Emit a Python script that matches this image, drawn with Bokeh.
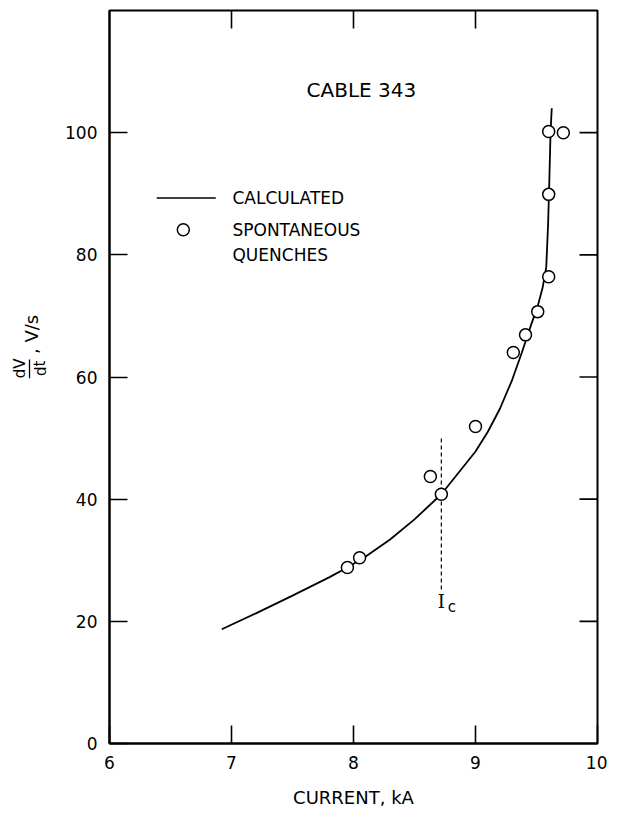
from bokeh.plotting import figure
from bokeh.layouts import row
from bokeh.models import FixedTicker, Label, Range1d
from bokeh.core.properties import value
from bokeh.embed import file_html
from bokeh.resources import INLINE

# ---- data ----
calc_current = [6.92, 7.20, 7.50, 7.80, 7.95, 8.10, 8.30, 8.50, 8.72, 9.00, 9.10, 9.20, 9.30, 9.38,
                9.45, 9.51, 9.55, 9.58, 9.595, 9.605, 9.615, 9.625]
calc_dvdt = [18.7, 21.3, 24.2, 27.2, 28.8, 30.6, 33.4, 36.7, 40.8, 47.8, 51.0, 54.8, 59.5, 64.0,
             68.2, 71.6, 74.6, 78.0, 85.0, 92.0, 100.0, 104.0]

quench_current = [7.95, 8.05, 8.63, 8.72, 9.00, 9.31, 9.41, 9.51, 9.60, 9.60, 9.60, 9.72]
quench_dvdt = [28.8, 30.4, 43.7, 40.8, 51.9, 64.0, 66.9, 70.7, 76.4, 89.9, 100.2, 100.0]

ic_current = 8.72
ic_dvdt = [25.2, 50.3]

x_ticks = [6, 7, 8, 9, 10]
y_ticks = [0, 20, 40, 60, 80, 100]
inner_x_ticks = [7, 8, 9]
inner_y_ticks = [20, 40, 60, 80, 100]

title_text = "CABLE 343"
legend_line_text = "CALCULATED"
legend_marker_text = ["SPONTANEOUS", "QUENCHES"]
x_label = "CURRENT, kA"
y_label_parts = ["dV", "dt", ", V/s"]

FONT = "DejaVu Sans"
X0, X1, Y0, Y1 = 6, 10, 0, 120

# ---- layout sizes ----
H = 811
LABEL_W = 60
MAIN_W = 607 - LABEL_W
FRAME_LEFT, FRAME_RIGHT, FRAME_TOP, FRAME_BOTTOM = 109, 597, 10, 743
TICK = 18

# ---- y-axis label panel ----
lab = figure(width=LABEL_W, height=H, x_range=Range1d(0, LABEL_W), y_range=Range1d(0, H),
             output_backend="svg", toolbar_location=None, min_border=0,
             x_axis_location=None, y_axis_location=None)
lab.outline_line_color = None
lab.grid.visible = False
lab.text(x=[19, 40], y=[H - 396, H - 396], text=y_label_parts[:2], angle=1.5708,
         text_align="center", text_baseline="middle", text_font=value(FONT),
         text_font_size=value("15px"), text_color="black")
lab.segment(x0=[29], y0=[H - 407], x1=[29], y1=[H - 386], line_color="black", line_width=1.3)
lab.text(x=[31], y=[H - 380], text=[y_label_parts[2]], angle=1.5708,
         text_align="left", text_baseline="middle", text_font=value(FONT),
         text_font_size=value("18px"), text_color="black")

# ---- main plot ----
p = figure(width=MAIN_W, height=H, x_range=Range1d(X0, X1), y_range=Range1d(Y0, Y1),
           output_backend="svg", toolbar_location=None,
           min_border_left=FRAME_LEFT - LABEL_W, min_border_right=LABEL_W + MAIN_W - FRAME_RIGHT,
           min_border_top=FRAME_TOP, min_border_bottom=H - FRAME_BOTTOM)
p.outline_line_color = "black"
p.outline_line_width = 2
p.grid.visible = False
p.background_fill_color = "white"
p.border_fill_color = "white"

for ax, ticks in ((p.xaxis[0], x_ticks), (p.yaxis[0], y_ticks)):
    ax.ticker = FixedTicker(ticks=ticks)
    ax.axis_line_width = 2
    ax.axis_line_color = "black"
    ax.major_tick_in = TICK
    ax.major_tick_out = 0
    ax.major_tick_line_width = 1.6
    ax.minor_tick_line_color = None
    ax.major_label_text_font = FONT
    ax.major_label_text_font_size = "17px"
    ax.major_label_text_color = "black"
    ax.major_label_standoff = 12

p.xaxis.axis_label = x_label
p.xaxis.axis_label_text_font = FONT
p.xaxis.axis_label_text_font_size = "18px"
p.xaxis.axis_label_text_font_style = "normal"
p.xaxis.axis_label_text_color = "black"
p.xaxis.axis_label_standoff = 15

# inner ticks on the top and right edges
ppx = (FRAME_RIGHT - FRAME_LEFT) / (X1 - X0)
ppy = (FRAME_BOTTOM - FRAME_TOP) / (Y1 - Y0)
p.segment(x0=inner_x_ticks, y0=[Y1] * len(inner_x_ticks), x1=inner_x_ticks,
          y1=[Y1 - TICK / ppy] * len(inner_x_ticks), line_color="black", line_width=1.6)
p.segment(x0=[X1] * len(inner_y_ticks), y0=inner_y_ticks, x1=[X1 - TICK / ppx] * len(inner_y_ticks),
          y1=inner_y_ticks, line_color="black", line_width=1.6)

# calculated curve
p.line(calc_current, calc_dvdt, line_color="black", line_width=1.8)

# I_c dashed marker
p.line([ic_current, ic_current], ic_dvdt, line_color="black", line_width=1.2, line_dash="4 3")

# measured points
p.scatter(quench_current, quench_dvdt, marker="circle", size=12, fill_color="white",
          line_color="black", line_width=1.5)

# title inside plot
p.add_layout(Label(x=8.065, y=107.0, text=title_text, text_align="center", text_baseline="middle",
                   text_font=FONT, text_font_size="20px", text_color="black"))

# legend (manual)
p.line([6.387, 6.871], [89.3, 89.3], line_color="black", line_width=1.6)
p.scatter([6.605], [84.1], marker="circle", size=12, fill_color="white", line_color="black", line_width=1.5)
for yy, txt in ((89.3, legend_line_text), (84.1, legend_marker_text[0]), (80.0, legend_marker_text[1])):
    p.add_layout(Label(x=7.008, y=yy, text=txt, text_align="left", text_baseline="middle",
                       text_font=FONT, text_font_size="17px", text_color="black"))

# I_c label
p.add_layout(Label(x=8.72, y=23.3, text="I", text_align="center", text_baseline="middle",
                   text_font="DejaVu Serif", text_font_size="18px", text_color="black"))
p.add_layout(Label(x=8.806, y=22.3, text="c", text_align="center", text_baseline="middle",
                   text_font=FONT, text_font_size="15px", text_color="black"))

layout = row(lab, p, spacing=0)
open("out.html", "w").write(file_html(layout, INLINE))
